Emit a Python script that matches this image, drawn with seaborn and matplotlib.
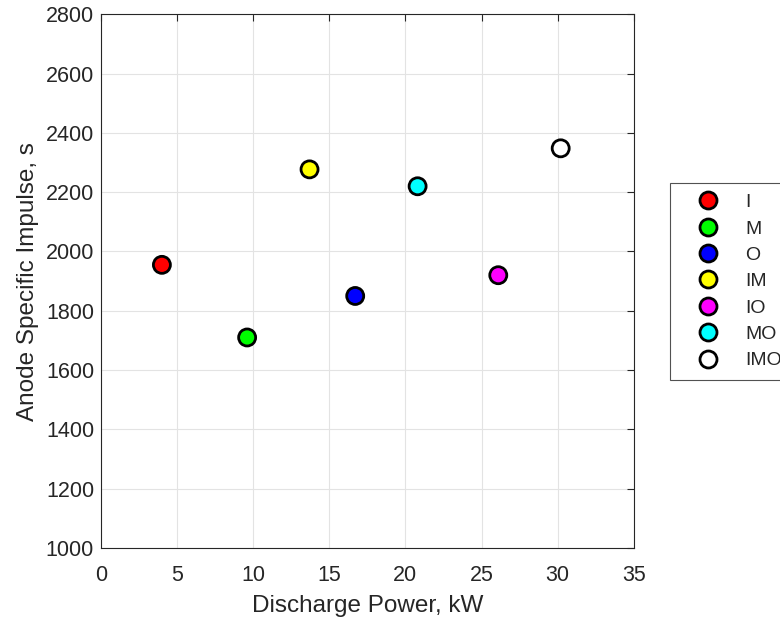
import pandas as pd
import matplotlib
matplotlib.use('Agg')
import matplotlib.pyplot as plt
import seaborn as sns

# Configurations and their measured values
configs = ['I', 'M', 'O', 'IM', 'IO', 'MO', 'IMO']
power_kw = [4.0, 9.6, 16.7, 13.7, 26.1, 20.8, 30.2]
isp_s = [1955, 1710, 1850, 2277, 1920, 2220, 2348]
colors = ['#ff0000', '#00ff00', '#0000ff', '#ffff00', '#ff00ff', '#00ffff', '#ffffff']

data = pd.DataFrame({'Config': configs, 'Power': power_kw, 'Isp': isp_s})

sns.set_style('white')
plt.rcParams['font.family'] = ['Liberation Sans', 'DejaVu Sans']

fig = plt.figure(figsize=(7.8, 6.22), dpi=100)
ax = fig.add_axes([0.1295, 0.119, 0.683, 0.858])

sns.scatterplot(data=data, x='Power', y='Isp', hue='Config', hue_order=configs,
                palette=colors, s=150, edgecolor='black', linewidth=2,
                ax=ax, zorder=3)

ax.set_xlim(0, 35)
ax.set_ylim(1000, 2800)
ax.set_xticks(range(0, 36, 5))
ax.set_yticks(range(1000, 2801, 200))
ax.grid(True, color='#e3e3e3', linewidth=0.8)
ax.set_axisbelow(True)
ax.tick_params(direction='in', top=True, right=True, length=5, width=0.8,
               colors='#262626', labelsize=15.5, labelcolor='#262626')
ax.tick_params(axis='x', pad=12)
ax.tick_params(axis='y', pad=5)
for sp in ax.spines.values():
    sp.set_color('#262626')
    sp.set_linewidth(0.8)

ax.set_xlabel('Discharge Power, kW', fontsize=17.5, color='#262626', labelpad=7)
ax.set_ylabel('Anode Specific Impulse, s', fontsize=17.5, color='#262626', labelpad=5)

# legend sits partly outside the figure, as in the original
leg = ax.legend(loc='upper left', bbox_to_anchor=(0.859, 0.706),
                bbox_transform=fig.transFigure, frameon=True, fancybox=False,
                fontsize=14, handlelength=2.8, handletextpad=0.5,
                labelspacing=0.45, borderpad=0.55, borderaxespad=0,
                markerscale=1.0)
leg.get_frame().set_edgecolor('#262626')
leg.get_frame().set_linewidth(0.8)

plt.savefig('out.png', dpi=100)
